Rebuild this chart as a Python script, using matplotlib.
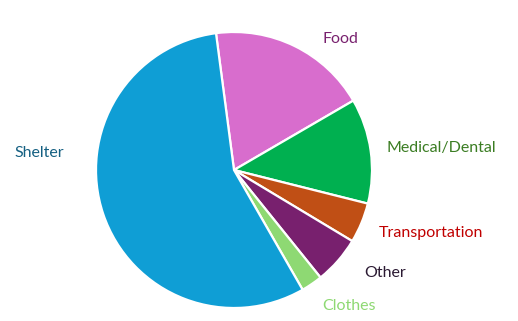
import matplotlib
matplotlib.use("Agg")
import matplotlib.pyplot as plt

categories = ["Food", "Medical/Dental", "Transportation", "Other", "Clothes", "Shelter"]
values = [18.7, 12.3, 4.7, 5.6, 2.5, 56.2]
colors = ["#D86DCD", "#00B050", "#C04F15", "#78206E", "#8ED973", "#0F9ED5"]
label_colors = ["#78206E", "#3B7D23", "#C00000", "#2B1A33", "#8ED973", "#156082"]

# layout: label anchor (left x, center y) in pixels from top-left
label_pos = [(323, 39), (387, 148), (379, 233), (364, 273), (322, 306), (14, 153)]

W, H = 518, 321
fig = plt.figure(figsize=(W / 100, H / 100), dpi=100)
cx, cy, r = 234, 170, 138
ax = fig.add_axes([(cx - r) / W, (H - cy - r) / H, 2 * r / W, 2 * r / H])
ax.pie(values, colors=colors, startangle=97.5, counterclock=False,
       wedgeprops=dict(edgecolor="white", linewidth=1.6))
ax.set_xlim(-1, 1)
ax.set_ylim(-1, 1)
ax.set_aspect("equal")
ax.axis("off")

for cat, col, (px, py) in zip(categories, label_colors, label_pos):
    fig.text(px / W, 1 - py / H, cat, color=col, ha="left", va="center",
             fontsize=11.5, family=["Lato", "DejaVu Sans"])

fig.savefig("out.png", dpi=100)
